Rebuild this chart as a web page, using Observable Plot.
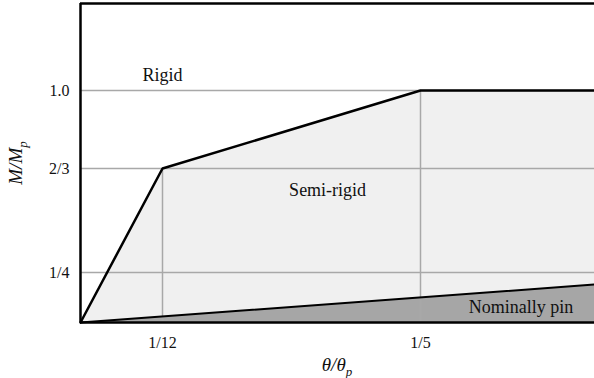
<!DOCTYPE html>
<html><head><meta charset="utf-8">
<script src="https://cdn.jsdelivr.net/npm/d3@7"></script>
<script src="https://cdn.jsdelivr.net/npm/@observablehq/plot@0.6"></script>
<style>
body{margin:0;background:#fff}
svg{display:block}
</style>
</head><body><div id="chart"></div>
<script>
// Tick values and labels (schematic, non-uniform axes)
const xTickValues = [1/12, 1/5];
const xTickLabels = ["1/12", "1/5"];
const yTickValues = [1/4, 2/3, 1];
const yTickLabels = ["1/4", "2/3", "1.0"];
const xMax = 1/3;   // right end of the axis
const yMax = 1.5;   // top end of the axis
// Boundary between rigid and semi-rigid
const rigidX = [0, 1/12, 1/5, xMax];
const rigidY = [0, 2/3, 1, 1];
// Boundary between semi-rigid and nominally pinned
const pinX = [0, xMax];
const pinY = [0, 0.19];
// Region labels
const regionNames = ["Rigid", "Semi-rigid", "Nominally pin"];
const regionX = [1/12, 0.158, 0.277];
const regionY = [1.09, 0.578, 0.075];

const curve = rigidX.map((x, i) => ({x, y: rigidY[i]}));
const pin = pinX.map((x, i) => ({x, y: pinY[i]}));
const semiPoly = [...curve, ...pin.slice().reverse()];
const pinPoly = [...pin, {x: xMax, y: 0}];
const serif = "Liberation Serif";

const chart = Plot.plot({
  width: 594, height: 378,
  marginLeft: 80, marginRight: 0, marginTop: 3, marginBottom: 56,
  style: {fontFamily: serif, fontSize: "16px", color: "#111", background: "white"},
  x: {type: "linear", domain: [0, 1/12, 1/5, xMax], range: [80, 162, 420, 594]},
  y: {type: "linear", domain: [0, 1/4, 2/3, 1, yMax], range: [322, 272, 168, 90, 3]},
  marks: [
    Plot.line(semiPoly, {x: "x", y: "y", fill: "#f0f0f0", stroke: "none"}),
    Plot.line(pinPoly, {x: "x", y: "y", fill: "#a6a6a6", stroke: "none"}),
    Plot.ruleY(yTickValues, {x1: 0, x2: xMax, stroke: "#a8a8a8", strokeWidth: 1.5}),
    Plot.ruleX(xTickValues, {y1: 0, y2: d => rigidY[rigidX.indexOf(d)], stroke: "#a8a8a8", strokeWidth: 1.5}),
    Plot.line(pin, {x: "x", y: "y", stroke: "#000", strokeWidth: 2}),
    Plot.line(curve, {x: "x", y: "y", stroke: "#000", strokeWidth: 2.5, strokeLinejoin: "miter"}),
    Plot.ruleX([0], {y1: 0, y2: yMax, stroke: "#000", strokeWidth: 2.5}),
    Plot.ruleY([0, yMax], {x1: 0, x2: xMax, stroke: "#000", strokeWidth: 2.5}),
    Plot.axisX(xTickValues, {tickSize: 0, tickPadding: 14, fontSize: 16, fontFamily: serif, label: null,
      tickFormat: d => xTickLabels[xTickValues.indexOf(d)]}),
    Plot.axisY(yTickValues, {tickSize: 0, tickPadding: 11, fontSize: 16, fontFamily: serif, label: null,
      tickFormat: d => yTickLabels[yTickValues.indexOf(d)]}),
    Plot.text(regionNames, {x: (d, i) => regionX[i], y: (d, i) => regionY[i], text: d => d,
      fontSize: 18, fontFamily: serif, fill: "#111"})
  ]
});

const svg = d3.select(chart);
const yl = svg.append("text")
  .attr("transform", "translate(22,163) rotate(-90)")
  .attr("text-anchor", "middle")
  .attr("font-style", "italic").attr("font-size", 19).attr("fill", "#111");
yl.append("tspan").text("M/M");
yl.append("tspan").attr("font-size", 13).attr("dy", 5).text("p");
const xl = svg.append("text")
  .attr("x", 337).attr("y", 371)
  .attr("text-anchor", "middle")
  .attr("font-style", "italic").attr("font-size", 19).attr("fill", "#111");
xl.append("tspan").text("θ/θ");
xl.append("tspan").attr("font-size", 13).attr("dy", 5).text("p");
svg.selectAll("text, tspan, g").style("font-family", "'Liberation Serif', 'Times New Roman', serif");

document.getElementById("chart").appendChild(chart);
</script>
</body></html>
